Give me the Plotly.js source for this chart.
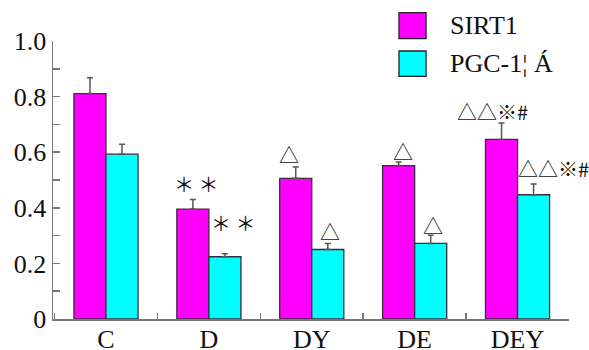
<!DOCTYPE html>
<html><head><meta charset="utf-8">
<script src="https://cdn.plot.ly/plotly-3.0.1.min.js"></script>
<style>html,body{margin:0;padding:0;background:#fff;}#chart{width:589px;height:350px;}</style>
</head><body><div id="chart"></div>
<script>
const categories = ['C', 'D', 'DY', 'DE', 'DEY'];
const seriesNames = ['SIRT1', 'PGC-1¦ Á'];
const sirt1 = [0.811, 0.395, 0.506, 0.552, 0.646];
const sirt1Err = [0.057, 0.035, 0.041, 0.013, 0.059];
const pgc = [0.593, 0.224, 0.250, 0.272, 0.447];
const pgcErr = [0.036, 0.011, 0.022, 0.029, 0.039];
const sirt1Marks = ['', '＊ ＊', '△', '△', '△△※#'];
const pgcMarks = ['', '＊ ＊', '△', '△', '△△※#'];
const yTickVals = [0, 0.2, 0.4, 0.6, 0.8, 1.0];
const yTickText = ['0', '0.2', '0.4', '0.6', '0.8', '1.0'];

// styling / placement (not data)
const colors = ['#FF00FF', '#00FFFF'];
const serif = 'Liberation Serif';
const cjk = 'Noto Sans CJK SC';
const markShift = { // pixel nudges [dx, dy] for significance marks
  s: [[0,0],[3,16],[-7,12],[4,10],[-9,12]],
  p: [[0,0],[8,31],[2.5,12],[2,10],[20,15]]
};
const half = 0.156;

function barTrace(name, y, err, color) {
  return {
    type: 'bar', name: name, x: categories, y: y,
    marker: {color: color, line: {color: '#3a2a3a', width: 1.3}},
    error_y: {type: 'data', array: err, arrayminus: err.map(() => 0), symmetric: false,
              color: '#555', thickness: 1.5, width: 3},
    showlegend: false
  };
}

const annotations = [];
function addMarks(marks, vals, errs, sign, shifts) {
  marks.forEach((m, i) => {
    if (!m) return;
    annotations.push({
      x: i + sign * half, y: vals[i] + errs[i], xref: 'x', yref: 'y',
      text: m, showarrow: false, xanchor: 'center', yanchor: 'middle',
      xshift: shifts[i][0], yshift: shifts[i][1],
      font: {family: cjk, size: 20, color: '#111'}
    });
  });
}
addMarks(sirt1Marks, sirt1, sirt1Err, -1, markShift.s);
addMarks(pgcMarks, pgc, pgcErr, 1, markShift.p);

// manual legend (large swatches)
const legendRows = [[1.102, 1.0086, 1.056], [0.964, 0.873, 0.92]];
const shapes = [];
seriesNames.forEach((n, k) => {
  shapes.push({type: 'rect', xref: 'paper', yref: 'paper', x0: 0.6705, x1: 0.723,
    y0: legendRows[k][1], y1: legendRows[k][0], fillcolor: colors[k],
    line: {color: '#222', width: 1.3}, layer: 'above'});
  annotations.push({xref: 'paper', yref: 'paper', x: 0.7655, y: legendRows[k][2],
    xanchor: 'left', yanchor: 'middle', text: n, showarrow: false,
    font: {family: serif, size: 26, color: '#111'}});
});

const layout = {
  width: 589, height: 350,
  margin: {l: 53, r: 20, t: 41, b: 31},
  paper_bgcolor: '#fff', plot_bgcolor: '#fff',
  barmode: 'group', bargap: 0.377, bargroupgap: 0,
  font: {family: serif, size: 26, color: '#111'},
  xaxis: {type: 'category', range: [-0.515, 4.5], showline: true, linecolor: '#777', linewidth: 1.5,
          ticks: 'inside', tickson: 'boundaries', ticklen: 6, tickcolor: '#777', tickwidth: 1.5,
          ticklabelstandoff: -4,
          showgrid: false, zeroline: false, tickfont: {family: serif, size: 26, color: '#111'}},
  yaxis: {range: [0, 1.0], showline: true, linecolor: '#777', linewidth: 1.5,
          tickvals: yTickVals, ticktext: yTickText, ticks: 'inside', ticklen: 7,
          tickcolor: '#777', tickwidth: 1.5, showgrid: false, zeroline: false,
          minor: {dtick: 0.1, ticks: 'inside', ticklen: 7, tickcolor: '#777', tickwidth: 1.5, showgrid: false},
          tickfont: {family: serif, size: 26, color: '#111'}},
  annotations: annotations, shapes: shapes, showlegend: false
};

Plotly.newPlot('chart', [
  barTrace(seriesNames[0], sirt1, sirt1Err, colors[0]),
  barTrace(seriesNames[1], pgc, pgcErr, colors[1])
], layout, {displayModeBar: false, staticPlot: true});
</script></body></html>
